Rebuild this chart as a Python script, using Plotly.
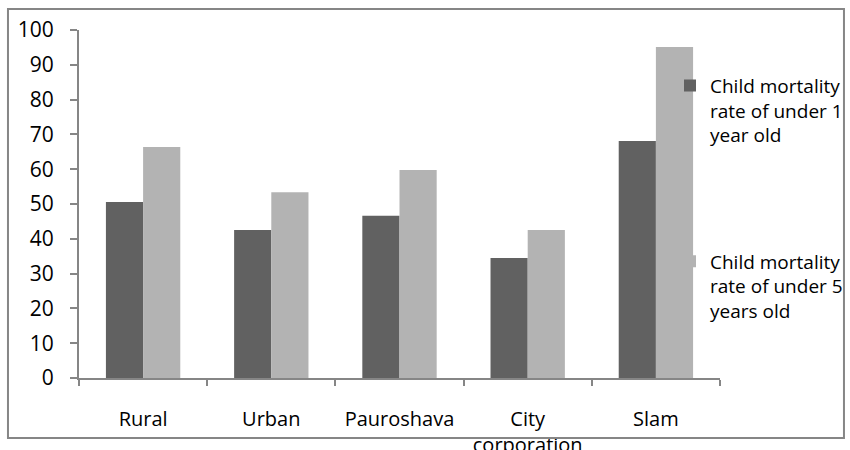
import plotly.graph_objects as go

# Child mortality rates by area type
categories = ["Rural", "Urban", "Pauroshava", "City<br>corporation", "Slam"]
under_1 = [50.6, 42.5, 46.6, 34.5, 68.1]
under_5 = [66.4, 53.4, 59.8, 42.5, 95.1]
series_names = [
    "Child mortality<br>rate of under 1<br>year old",
    "Child mortality<br>rate of under 5<br>years old",
]
y_ticks = list(range(0, 101, 10))

DARK = "#616161"
LIGHT = "#b3b3b3"
AXIS = "#868686"
FONT = "Open Sans"

fig = go.Figure()
fig.add_trace(go.Bar(x=categories, y=under_1, name=series_names[0],
                     marker=dict(color=DARK, line=dict(width=0)), legend="legend"))
fig.add_trace(go.Bar(x=categories, y=under_5, name=series_names[1],
                     marker=dict(color=LIGHT, line=dict(width=0)), legend="legend2"))

legend_style = dict(
    xref="paper", yref="paper", xanchor="left", yanchor="top",
    bgcolor="rgba(0,0,0,0)", borderwidth=0, valign="top",
    font=dict(family=FONT, size=19, color="#000000"),
    itemclick=False, itemdoubleclick=False, visible=True,
)

fig.update_layout(
    width=850, height=450,
    margin=dict(l=79, r=130, t=30, b=72, autoexpand=False),
    paper_bgcolor="white", plot_bgcolor="white",
    barmode="group", bargap=0.42, bargroupgap=0,
    showlegend=True,
    font=dict(family=FONT, size=20, color="#000000"),
    legend=dict(x=0.922, y=0.895, **legend_style),
    legend2=dict(x=0.922, y=0.39, **legend_style),
    xaxis=dict(
        type="category", range=[-0.5, 4.5], automargin=False,
        showline=True, linecolor=AXIS, linewidth=2,
        ticks="outside", tickson="boundaries", ticklen=6, tickcolor=AXIS, tickwidth=1.5,
        ticklabelstandoff=22, showgrid=False, zeroline=False,
        tickfont=dict(family=FONT, size=20),
    ),
    yaxis=dict(
        range=[0, 100], tickvals=y_ticks, automargin=False,
        showline=True, linecolor=AXIS, linewidth=2,
        ticks="outside", ticklen=7, tickcolor=AXIS, tickwidth=1.5,
        ticklabelstandoff=12, showgrid=False, zeroline=False,
        tickfont=dict(family=FONT, size=21),
    ),
    shapes=[dict(
        type="rect", xref="paper", yref="paper",
        x0=-0.1108, x1=1.1934, y0=-0.1724, y1=1.0603,
        line=dict(color=AXIS, width=2), fillcolor="rgba(0,0,0,0)", layer="above",
    )],
)

fig.write_html("out.html")
